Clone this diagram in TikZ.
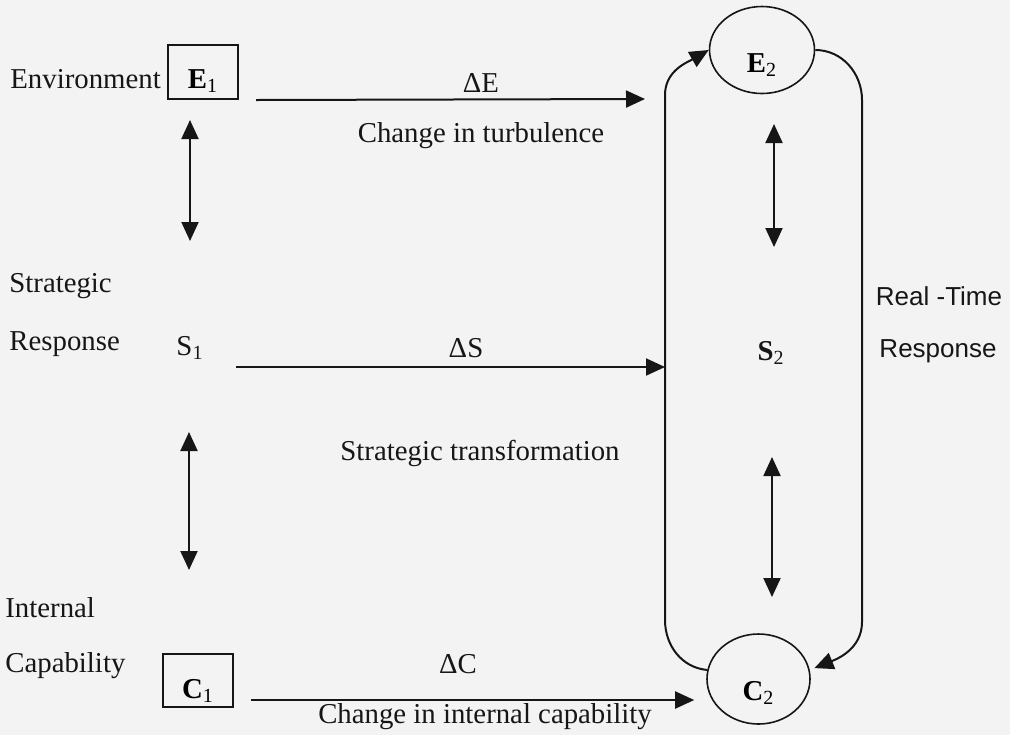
\documentclass[tikz,border=0pt]{standalone}
\usepackage{fontspec}
\setmainfont{Liberation Serif}
\newfontfamily\rtfont{Liberation Sans}
\usepackage{tikz}
\usetikzlibrary{arrows.meta,shapes.geometric}
\definecolor{Page}{RGB}{243,243,243}
\definecolor{Ink}{RGB}{22,22,22}
\newcommand{\Link}[4]{% name x ytop ybottom
\coordinate (#1a) at (#2,#3);
\coordinate (#1b) at (#2,#4);
\draw[darr] (#1a) -- (#1b);
}

\begin{document}
\begin{tikzpicture}[x=0.5pt,y=0.5pt,
  font=\fontsize{14.4}{17}\selectfont,
  arr/.style={-{Triangle[length=9.5pt,width=8.5pt]},line width=1pt,Ink},
  darr/.style={{Triangle[length=9.5pt,width=8.5pt]}-{Triangle[length=9.5pt,width=8.5pt]},line width=1pt,Ink},
  state/.style={draw=Ink,line width=1pt,minimum width=35pt,minimum height=27pt,inner sep=0pt,text depth=0pt},
  goal/.style={ellipse,draw=Ink,line width=0.8pt,inner sep=0pt,text depth=0pt},
  lbl/.style={text=Ink,inner sep=0pt},
  rt/.style={text=Ink,inner sep=0pt,font=\rtfont\fontsize{13}{15}\selectfont}]
\fill[Page] (0,0) rectangle (1010,-735);
% row labels
\node[lbl,anchor=base west] (env) at (10,-88) {Environment};
\node[lbl,anchor=base west] (stg) at (9,-292) {Strategic};
\node[lbl,anchor=base west] (resp) at (9,-350) {Response};
\node[lbl,anchor=base west] (intl) at (5,-617) {Internal};
\node[lbl,anchor=base west] (capb) at (5,-672) {Capability};
\node[rt,anchor=base] (realt) at (939,-305) {Real -Time};
\node[rt,anchor=base] (rresp) at (938,-357) {Response};
% states
\node[state,text height=16pt] (e1) at (203,-72) {\textbf{E}\textsubscript{1}};
\node[state,text height=18pt,minimum height=26.5pt] (c1) at (198,-680.5) {\textbf{C}\textsubscript{1}};
\node[lbl,anchor=base] (s1) at (190,-355) {S\textsubscript{1}};
\node[goal,minimum width=52.5pt,minimum height=43.5pt,text height=22pt] (e2) at (762,-50) {\textbf{E}\textsubscript{2}};
\node[goal,minimum width=51.5pt,minimum height=45pt,text height=21pt] (c2) at (758.5,-679) {\textbf{C}\textsubscript{2}};
\node[lbl,anchor=base] (s2) at (771,-360) {\textbf{S}\textsubscript{2}};
% changes
\coordinate (dEend) at (645,-99);
\draw[arr] ([xshift=8.5pt]e1.south east) -- (dEend);
\node[lbl,anchor=base] (dE) at (481,-92) {ΔE};
\node[lbl,anchor=base] (turb) at (481,-142) {Change in turbulence};
\coordinate (sjoin) at (665,-367);
\draw[arr,shorten <=16pt] (s1.east |- sjoin) -- (sjoin);
\node[lbl,anchor=base] (dS) at (466,-357) {ΔS};
\node[lbl,anchor=base] (strans) at (480,-460) {Strategic transformation};
\draw[arr,shorten >=6pt] ([xshift=8.5pt,yshift=4pt]c1.south east) coordinate (dCstart) -- (c2.west |- dCstart);
\node[lbl,anchor=base] (dC) at (458,-673) {ΔC};
\node[lbl,anchor=base] (cap) at (485,-723) {Change in internal capability};
% links between levels
\Link{es1}{190}{-120}{-241}
\Link{sc1}{189}{-432}{-570}
\Link{es2}{774}{-124}{-247}
\Link{sc2}{772}{-457}{-597}
% real-time loop
\draw[arr] (c2.170) to[out=175,in=-90] (665,-620) -- (665,-95) to[out=90,in=210] (e2.west);
\draw[arr,shorten >=2.5pt] (e2.east) to[out=0,in=90] (862,-100) -- (862,-622) to[out=-90,in=22] (c2.10);
\end{tikzpicture}
\end{document}
